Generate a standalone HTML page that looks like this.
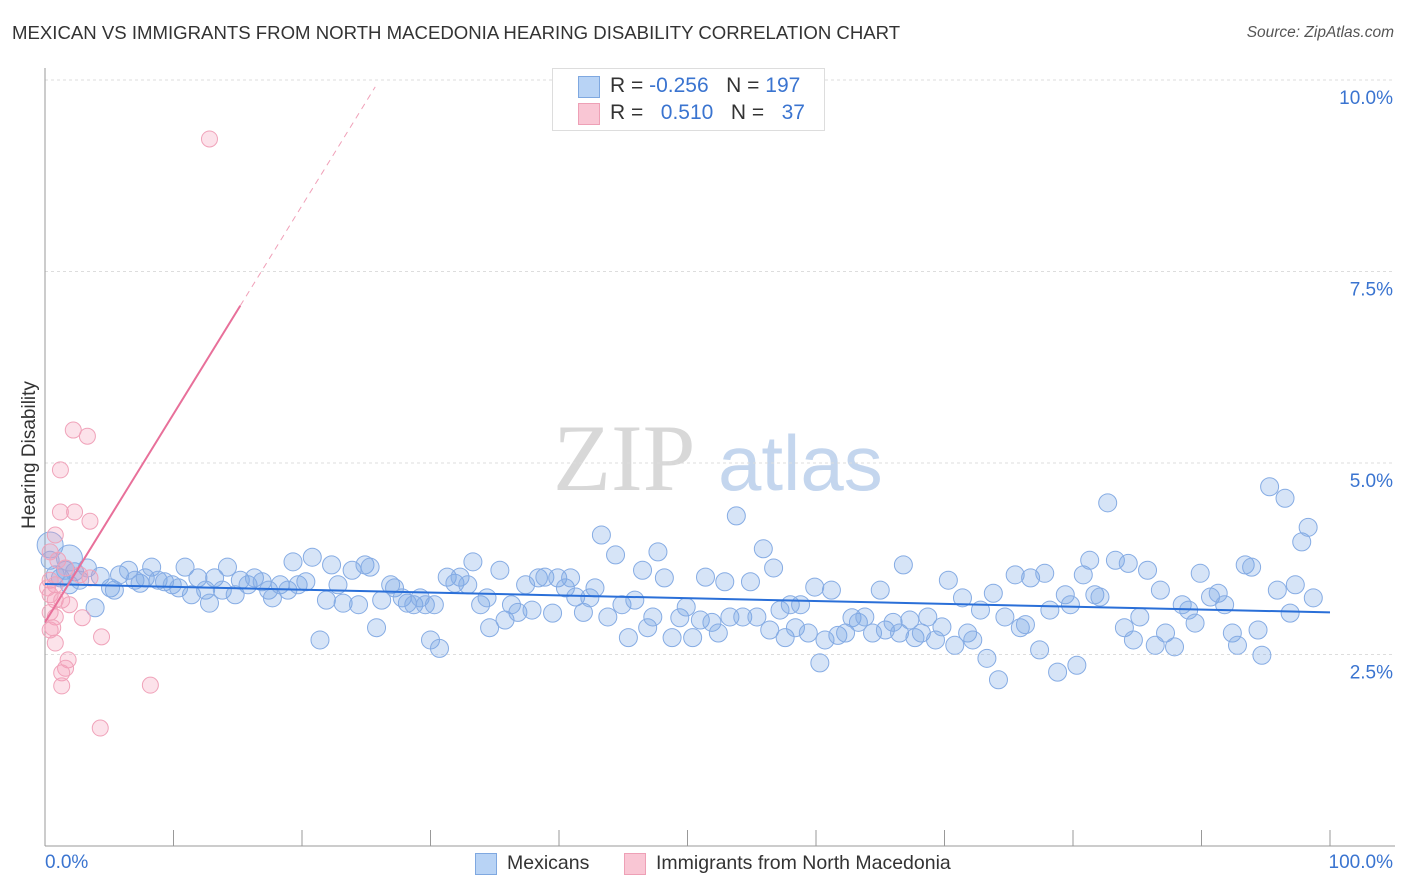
<!DOCTYPE html>
<html><head><meta charset="utf-8"><style>
body{margin:0;background:#fff;font-family:"Liberation Sans",sans-serif;}
#wrap{position:relative;width:1406px;height:892px;overflow:hidden;}
.t{position:absolute;white-space:nowrap;}
</style></head><body>
<div id="wrap">
<div class="t" style="left:12px;top:22px;font-size:18.6px;color:#333;">MEXICAN VS IMMIGRANTS FROM NORTH MACEDONIA HEARING DISABILITY CORRELATION CHART</div>
<div class="t" style="right:12px;top:24px;font-size:15.5px;color:#555;font-style:italic;">Source: ZipAtlas.com</div>
<div class="t" style="left:-50px;top:444px;font-size:19px;color:#333;transform:rotate(-90deg);transform-origin:center;width:160px;text-align:center;">Hearing Disability</div>
<svg id="svg" width="1406" height="892" style="position:absolute;left:0;top:0">
<text x="553" y="490" font-family="Liberation Serif" font-size="95" fill="#d8d8d8">ZIP</text>
<text x="718" y="490" font-family="Liberation Sans" font-size="78" fill="#c4d6ee">atlas</text>
</svg>
<div style="position:absolute;left:552px;top:68px;width:271px;height:61px;border:1px solid #ddd;background:#fff;font-size:21px;">
<div style="position:absolute;left:25px;top:7px;width:20px;height:20px;background:#b8d3f5;border:1px solid #7fa8e0;"></div>
<div class="t" style="left:57px;top:5px;color:#333;">R = <span style="color:#3a74d0">-0.256</span>&nbsp;&nbsp;&nbsp;N = <span style="color:#3a74d0">197</span></div>
<div style="position:absolute;left:25px;top:34px;width:20px;height:20px;background:#f9c6d4;border:1px solid #eea0b6;"></div>
<div class="t" style="left:57px;top:32px;color:#333;">R = &nbsp;&nbsp;<span style="color:#3a74d0">0.510</span>&nbsp;&nbsp;&nbsp;N = &nbsp;&nbsp;<span style="color:#3a74d0">37</span></div>
</div>
<div class="t" style="left:45px;top:852px;font-size:19px;color:#3a74d0;">0.0%</div>
<div class="t" style="right:13px;top:852px;font-size:19px;color:#3a74d0;">100.0%</div>
<div style="position:absolute;left:475px;top:853px;width:20px;height:20px;background:#b8d3f5;border:1px solid #7fa8e0;"></div>
<div class="t" style="left:507px;top:852px;font-size:19.5px;color:#333;">Mexicans</div>
<div style="position:absolute;left:624px;top:853px;width:20px;height:20px;background:#f9c6d4;border:1px solid #eea0b6;"></div>
<div class="t" style="left:656px;top:852px;font-size:19.5px;color:#333;">Immigrants from North Macedonia</div>
</div>
<script>
const yTicks=[2.5,5.0,7.5,10.0];
const yTickLabels=["2.5%","5.0%","7.5%","10.0%"];
const xTicks=[10,20,30,40,50,60,70,80,90,100];
const blueX=[0.4,0.8,1.2,1.6,1.9,2.3,2.7,3.3,3.9,4.3,5.1,5.4,5.8,6.5,7.0,7.4,7.8,8.3,8.8,9.3,9.9,10.4,10.9,11.4,11.9,12.5,12.8,13.2,13.8,14.2,14.8,15.2,15.8,16.3,16.9,17.4,17.7,18.3,18.9,19.3,19.7,20.3,20.8,21.4,21.9,22.3,22.8,23.2,23.9,24.4,24.9,25.3,25.8,26.2,26.9,27.2,27.8,28.2,28.7,29.2,29.6,30.0,30.3,30.7,31.3,31.9,32.3,32.9,33.3,33.9,34.4,34.6,35.4,35.8,36.3,36.8,37.4,37.9,38.4,38.9,39.5,39.9,40.5,40.9,41.3,41.9,42.4,42.8,43.3,43.8,44.4,44.9,45.4,45.9,46.5,46.9,47.3,47.7,48.2,48.8,49.4,49.9,50.4,51.0,51.4,51.9,52.4,52.9,53.3,53.8,54.3,54.9,55.4,55.9,56.4,56.7,57.2,57.6,58.0,58.4,58.8,59.4,59.9,60.3,60.7,61.2,61.7,62.3,62.8,63.3,63.8,64.4,65.0,65.4,66.0,66.5,66.8,67.3,67.7,68.2,68.7,69.3,69.8,70.3,70.8,71.4,71.8,72.2,72.8,73.3,73.8,74.2,74.7,75.5,75.9,76.3,76.7,77.4,77.8,78.2,78.8,79.4,79.8,80.3,80.8,81.3,81.7,82.1,82.7,83.3,84.0,84.3,84.7,85.2,85.8,86.4,86.8,87.2,87.9,88.5,89.0,89.5,89.9,90.7,91.3,91.8,92.4,92.8,93.4,93.9,94.4,94.7,95.3,95.9,96.5,96.9,97.3,97.8,98.3,98.7,0.4,1.9];
const blueY=[3.73,3.54,3.50,3.60,3.41,3.58,3.47,3.63,3.11,3.52,3.37,3.34,3.54,3.60,3.47,3.43,3.50,3.64,3.47,3.45,3.41,3.37,3.64,3.28,3.50,3.34,3.17,3.50,3.34,3.64,3.28,3.47,3.41,3.50,3.45,3.34,3.24,3.41,3.34,3.71,3.41,3.45,3.77,2.69,3.21,3.67,3.41,3.17,3.60,3.15,3.67,3.64,2.85,3.21,3.41,3.37,3.24,3.17,3.15,3.24,3.15,2.69,3.15,2.58,3.51,3.43,3.51,3.41,3.71,3.15,3.24,2.85,3.60,2.95,3.15,3.05,3.41,3.08,3.50,3.51,3.04,3.50,3.37,3.50,3.25,3.05,3.24,3.37,4.06,2.99,3.80,3.15,2.72,3.21,3.60,2.85,2.99,3.84,3.50,2.72,2.98,3.12,2.72,2.95,3.51,2.92,2.78,3.45,2.99,4.31,2.99,3.45,2.99,3.88,2.82,3.63,3.08,2.72,3.15,2.85,3.15,2.78,3.38,2.39,2.69,3.34,2.75,2.78,2.98,2.92,2.99,2.78,3.34,2.82,2.92,2.78,3.67,2.95,2.72,2.78,2.99,2.69,2.86,3.47,2.62,3.24,2.78,2.69,3.08,2.45,3.30,2.17,2.99,3.54,2.85,2.89,3.50,2.56,3.56,3.08,2.27,3.28,3.15,2.36,3.54,3.73,3.28,3.25,4.48,3.73,2.85,3.69,2.69,2.99,3.60,2.62,3.34,2.78,2.60,3.15,3.08,2.91,3.56,3.25,3.30,3.15,2.78,2.62,3.67,3.64,2.82,2.49,4.69,3.34,4.54,3.04,3.41,3.97,4.16,3.24,3.93,3.76];
const pinkX=[12.8,2.2,3.3,1.2,1.2,2.3,3.5,0.8,0.4,1.0,1.6,0.4,0.8,0.4,0.8,1.3,1.9,0.4,0.8,2.9,0.4,0.8,4.4,1.8,1.6,1.3,1.3,8.2,4.3,2.7,0.2,3.5,0.6];
const pinkY=[9.23,5.43,5.35,4.91,4.36,4.36,4.24,4.06,3.84,3.73,3.63,3.47,3.41,3.28,3.21,3.21,3.15,3.05,2.99,2.98,2.82,2.65,2.73,2.43,2.32,2.26,2.09,2.10,1.54,3.54,3.37,3.50,2.85];
const blueTrend=[3.42,3.05];
const pinkTrend=[2.92,0.272];
const X0=45,X1=1330,YB=846,PPY=76.6;
const sx=v=>X0+(X1-X0)*v/100, sy=v=>YB-v*PPY;
const svg=document.getElementById('svg');
const NS='http://www.w3.org/2000/svg';
function mk(t,a){const e=document.createElementNS(NS,t);for(const k in a)e.setAttribute(k,a[k]);svg.appendChild(e);return e;}
yTicks.forEach((v,i)=>{
 const g=mk('line',{x1:X0,x2:1395,y1:sy(v),y2:sy(v),stroke:'#ddd','stroke-dasharray':'3,3'});
 
 
 const t=mk('text',{x:1393,y:sy(v)+24,'text-anchor':'end','font-size':19,fill:'#3a74d0','font-family':'Liberation Sans'});
 t.textContent=yTickLabels[i];
 
 
});
const ax=mk('line',{x1:X0,x2:X0,y1:68,y2:YB,stroke:'#999'});


const bx=mk('line',{x1:X0,x2:1395,y1:YB,y2:YB,stroke:'#999'});


xTicks.forEach(v=>{
 const l=mk('line',{x1:sx(v),x2:sx(v),y1:YB-16,y2:YB,stroke:'#999'});
 
 
});
blueX.forEach((v,i)=>{
 const big=i>=blueX.length-2;
 const c=mk('circle',{cx:sx(v),cy:sy(blueY[i]),r:big?13:9,fill:'rgba(120,165,230,0.3)',stroke:'#86ace4','stroke-width':1});
 
 
});
pinkX.forEach((v,i)=>{
 const c=mk('circle',{cx:sx(v),cy:sy(pinkY[i]),r:8,fill:'rgba(245,160,185,0.3)',stroke:'#f0a3ba','stroke-width':1});
 
 
});
const bl=mk('line',{x1:sx(0),x2:sx(100),y1:sy(blueTrend[0]),y2:sy(blueTrend[1]),stroke:'#2a6fd8','stroke-width':2});


const pe=15.2, pd=25.7;
const pl=mk('line',{x1:sx(0),x2:sx(pe),y1:sy(pinkTrend[0]),y2:sy(pinkTrend[0]+pinkTrend[1]*pe),stroke:'#e8709a','stroke-width':2});


const pdl=mk('line',{x1:sx(pe),x2:sx(pd),y1:sy(pinkTrend[0]+pinkTrend[1]*pe),y2:sy(pinkTrend[0]+pinkTrend[1]*pd),stroke:'#f0a0b8','stroke-width':1,'stroke-dasharray':'6,5'});


</script>
</body></html>
